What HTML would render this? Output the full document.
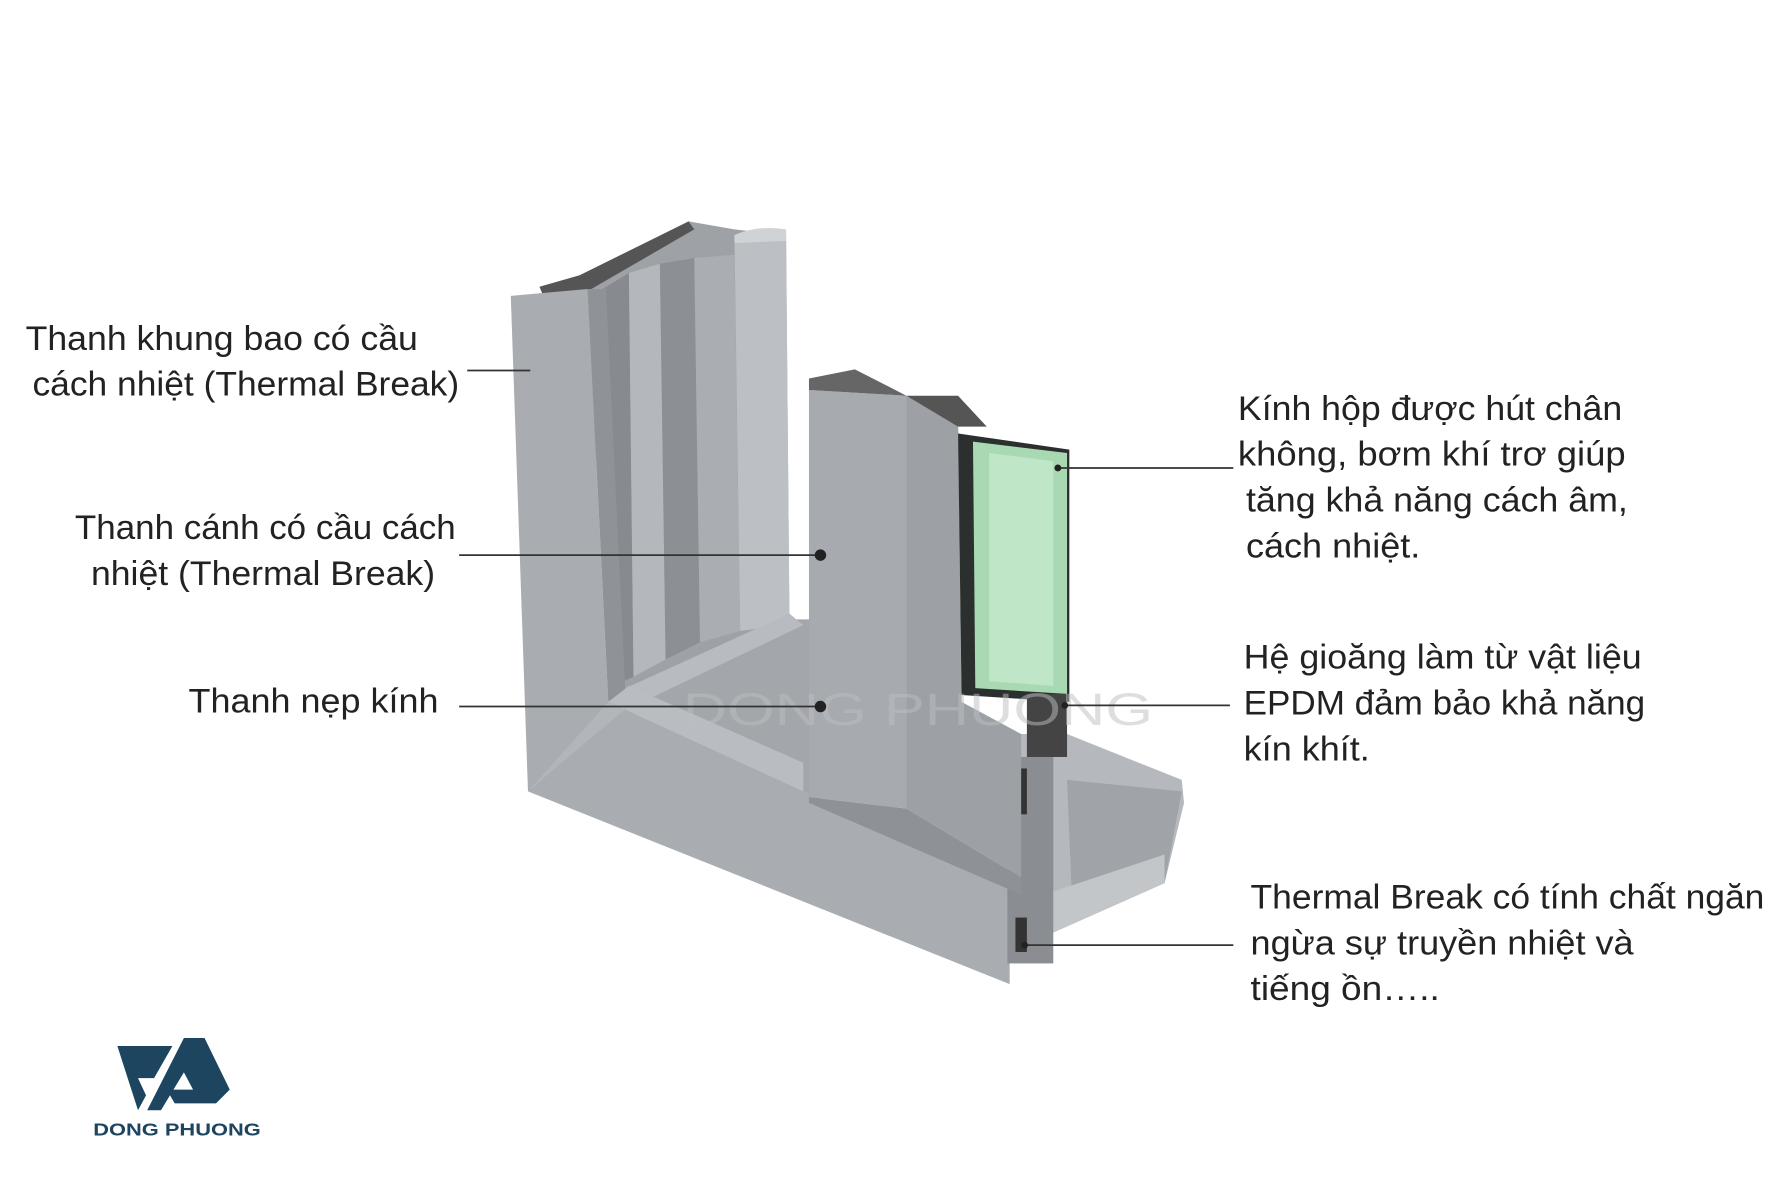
<!DOCTYPE html>
<html><head><meta charset="utf-8"><style>
html,body{margin:0;padding:0;background:#fff}
svg{display:block}
text{font-family:"Liberation Sans",sans-serif;fill:#222}
</style></head><body>
<svg width="1790" height="1202" viewBox="0 0 1560 1048" xmlns="http://www.w3.org/2000/svg">
<rect width="1560" height="1048" fill="#fff"/>
<!-- back channels of outer frame -->
<polygon points="505,252 600,193 640,200 685,205 688,545 540,612" fill="#9ea2a7"/>
<polygon points="515,258 548,238 552,590 530,600" fill="#878b90"/>
<polygon points="548,238 575,230 580,575 552,590" fill="#b4b7bb"/>
<polygon points="575,230 605,225 610,560 580,575" fill="#8c9095"/>
<polygon points="605,225 640,222 645,550 610,560" fill="#aaadb1"/>
<polygon points="640,205 685,200 688,545 645,550" fill="#bcbfc3"/>
<path d="M640,205 Q660,196 685,200 L685,210 L640,212 Z" fill="#d0d3d6"/>
<polygon points="470,250 505,240 600,193 605,200 510,255 475,262" fill="#555"/>
<!-- inner corner fill -->
<polygon points="530,612 688,540 710,540 710,700 600,650" fill="#a3a7ab"/>
<polygon points="545,600 688,535 700,545 560,612" fill="#b8bbbf"/>
<!-- outer frame face -->
<polygon points="445,258 512,252 530,612 700,690 880,760 880,858 460,690" fill="#a9acb0"/>
<polygon points="512,252 530,612 545,605 528,252" fill="#8f9398"/>
<polygon points="530,612 700,690 700,665 548,598" fill="#b9bcc0"/>
<polygon points="460,690 530,612 545,618" fill="#b2b5b9"/>
<!-- bottom sill track -->
<polygon points="880,640 930,640 1030,680 1032,700 1015,770 880,830" fill="#b5b8bc"/>
<polygon points="930,680 1030,690 1015,770 935,800" fill="#a0a4a8"/>
<polygon points="880,790 1015,745 1015,770 880,830" fill="#c3c6c9"/>
<rect x="878" y="660" width="40" height="180" fill="#8a8e93"/>
<rect x="885" y="670" width="10" height="40" fill="#333"/>
<rect x="885" y="800" width="10" height="30" fill="#333"/>
<!-- sash -->
<polygon points="705,340 790,345 790,705 705,695" fill="#a7aaae"/>
<polygon points="790,345 835,360 838,612 890,640 890,765 790,705" fill="#9da1a6"/>
<polygon points="705,695 790,705 890,765 890,780 705,700" fill="#8e9297"/>
<polygon points="705,330 745,322 790,345 705,340" fill="#666"/>
<polygon points="790,345 835,345 860,372 835,372" fill="#555"/>
<!-- glass -->
<polygon points="835,378 932,392 932,612 838,606" fill="#2b2f2d"/>
<polygon points="848,385 930,395 930,605 850,600" fill="#a9d9b2"/>
<polygon points="862,395 918,402 918,598 862,594" fill="#bfe6c6"/>
<rect x="895" y="605" width="35" height="55" fill="#444"/>
<!-- watermark -->
<text x="595" y="632" font-size="40" style="fill:#bcbfc2;opacity:.5" textLength="410" lengthAdjust="spacingAndGlyphs">DONG PHUONG</text>
<!-- leader lines -->
<g stroke="#333" stroke-width="1.5">
<line x1="407" y1="323" x2="462" y2="323"/>
<line x1="400" y1="484" x2="715" y2="484"/>
<line x1="400" y1="616" x2="715" y2="616"/>
<line x1="922" y1="408" x2="1075" y2="408"/>
<line x1="928" y1="615" x2="1072" y2="615"/>
<line x1="893" y1="824" x2="1075" y2="824"/>
</g>
<g fill="#222">
<circle cx="715" cy="484" r="5"/><circle cx="715" cy="616" r="5"/>
<circle cx="922" cy="408" r="3"/><circle cx="928" cy="615" r="3"/><circle cx="893" cy="824" r="3"/>
</g>
<!-- labels -->
<g font-size="30">
<text x="22" y="305" textLength="342" lengthAdjust="spacingAndGlyphs">Thanh khung bao có cầu</text>
<text x="28" y="345" textLength="372" lengthAdjust="spacingAndGlyphs">cách nhiệt (Thermal Break)</text>
<text x="65" y="470" textLength="332" lengthAdjust="spacingAndGlyphs">Thanh cánh có cầu cách</text>
<text x="79" y="510" textLength="300" lengthAdjust="spacingAndGlyphs">nhiệt (Thermal Break)</text>
<text x="164" y="621" textLength="218" lengthAdjust="spacingAndGlyphs">Thanh nẹp kính</text>
<text x="1079" y="366" textLength="335" lengthAdjust="spacingAndGlyphs">Kính hộp được hút chân</text>
<text x="1079" y="406" textLength="338" lengthAdjust="spacingAndGlyphs">không, bơm khí trơ giúp</text>
<text x="1086" y="446" textLength="333" lengthAdjust="spacingAndGlyphs">tăng khả năng cách âm,</text>
<text x="1086" y="486" textLength="152" lengthAdjust="spacingAndGlyphs">cách nhiệt.</text>
<text x="1084" y="583" textLength="347" lengthAdjust="spacingAndGlyphs">Hệ gioăng làm từ vật liệu</text>
<text x="1084" y="623" textLength="350" lengthAdjust="spacingAndGlyphs">EPDM đảm bảo khả năng</text>
<text x="1084" y="663" textLength="110" lengthAdjust="spacingAndGlyphs">kín khít.</text>
<text x="1090" y="792" textLength="448" lengthAdjust="spacingAndGlyphs">Thermal Break có tính chất ngăn</text>
<text x="1090" y="832" textLength="334" lengthAdjust="spacingAndGlyphs">ngừa sự truyền nhiệt  và</text>
<text x="1090" y="872" textLength="165" lengthAdjust="spacingAndGlyphs">tiếng ồn…..</text>
</g>
<!-- logo -->
<g fill="#1d4560">
<polygon points="102,912 150,912 134,940 120,940 127,955 120,968"/>
<polygon points="160,905 178,905 200,950 188,962 152,962 145,950 168,950 160,935 140,968 128,968"/>
</g>
<text x="81" y="990" font-size="15" font-weight="bold" style="fill:#1d4560" textLength="146" lengthAdjust="spacingAndGlyphs">DONG PHUONG</text>
</svg>
</body></html>
